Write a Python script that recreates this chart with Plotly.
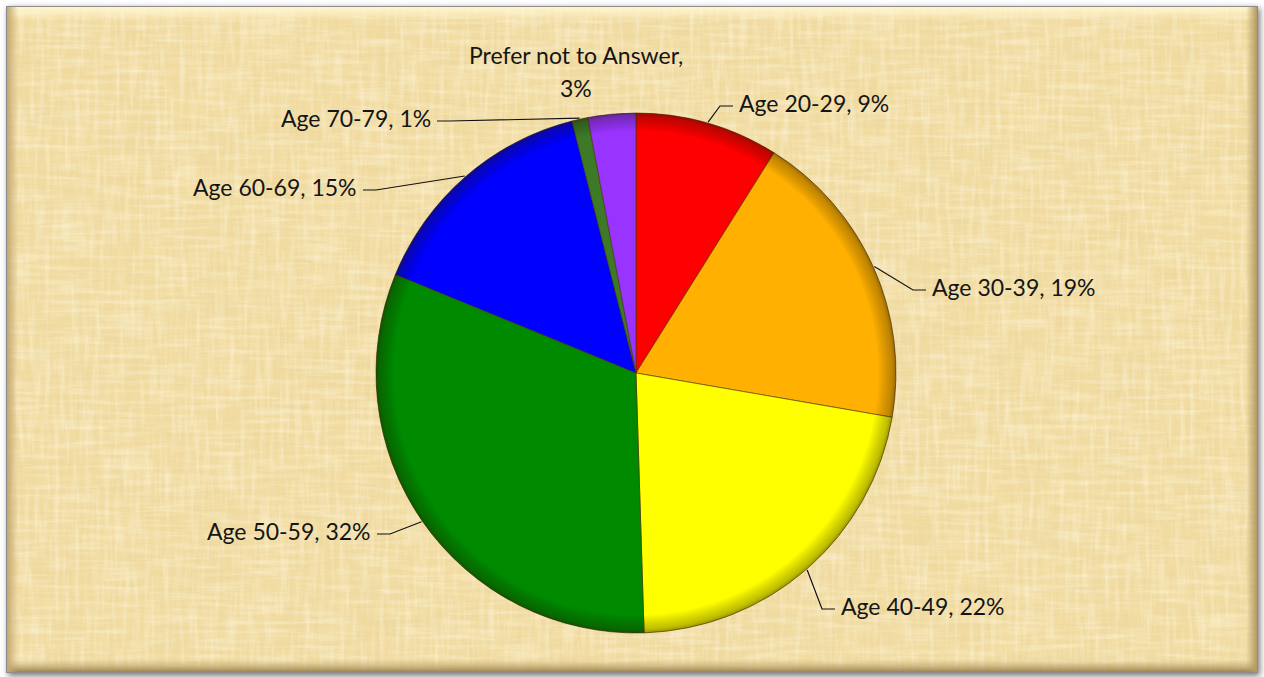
import base64
import math

import plotly.graph_objects as go

# ---- data -------------------------------------------------------------
categories = [
    "Age 20-29",
    "Age 30-39",
    "Age 40-49",
    "Age 50-59",
    "Age 60-69",
    "Age 70-79",
    "Prefer not to Answer",
]
percent_values = [9, 19, 22, 32, 15, 1, 3]
slice_colors = ["#FF0000", "#FFB000", "#FFFF00", "#008A00", "#0000FF", "#3C7A28", "#9933FF"]

# ---- layout -----------------------------------------------------------
FIG_W, FIG_H = 1264, 677
PIE_LEFT, PIE_TOP, PIE_SIZE = 376, 113, 520
CX, CY, R = PIE_LEFT + PIE_SIZE / 2, PIE_TOP + PIE_SIZE / 2, PIE_SIZE / 2
FONT = dict(family="Lato, Calibri, Arial", size=23, color="#151515")

# label text anchors in pixels: (x, y, side); side says which way the text runs
label_anchor = [
    (737, 103, "left"),
    (930, 287, "left"),
    (839, 606, "left"),
    (373, 531, "right"),
    (359, 187, "right"),
    (433, 118, "right"),
    (576, 72, "center"),
]


def to_paper(px, py):
    return (px - PIE_LEFT) / PIE_SIZE, 1 - (py - PIE_TOP) / PIE_SIZE


def streaks(fid, freq, seed, rgb, gain, bias):
    r, g, b = rgb
    return (f"<filter id='{fid}' x='0' y='0' width='100%' height='100%'>"
            f"<feTurbulence type='fractalNoise' baseFrequency='{freq}' numOctaves='3' seed='{seed}'/>"
            f"<feColorMatrix type='matrix' values='0 0 0 0 {r}  0 0 0 0 {g}  0 0 0 0 {b}  {gain} 0 0 0 {bias}'/>"
            f"</filter>")


# parchment background with a bevelled frame, drawn as an svg image
filters = "".join([
    streaks("hf", "0.012 0.30", 4, (0.80, 0.64, 0.30), 2.4, -1.05),
    streaks("vf", "0.30 0.012", 9, (0.82, 0.66, 0.32), 2.4, -1.05),
    streaks("hm", "0.004 0.06", 13, (0.84, 0.70, 0.36), 2.0, -0.95),
    streaks("vm", "0.06 0.004", 17, (0.84, 0.70, 0.36), 2.0, -0.95),
    streaks("lh", "0.02 0.20", 23, (1.0, 0.96, 0.80), 2.4, -1.05),
    streaks("lv", "0.20 0.02", 29, (1.0, 0.96, 0.80), 2.4, -1.05),
])
frame = "x='6' y='6' width='1252' height='667'"
svg = f"""<svg xmlns='http://www.w3.org/2000/svg' width='{FIG_W}' height='{FIG_H}' viewBox='0 0 {FIG_W} {FIG_H}'>
<defs>
<filter id='sh' x='-5%' y='-5%' width='110%' height='110%'><feGaussianBlur stdDeviation='3'/></filter>
{filters}
<linearGradient id='top' x1='0' y1='0' x2='0' y2='1'><stop offset='0' stop-color='#FFF6CF'/><stop offset='1' stop-color='#FFF6CF' stop-opacity='0'/></linearGradient>
<linearGradient id='bot' x1='0' y1='1' x2='0' y2='0'><stop offset='0' stop-color='#9C8450'/><stop offset='1' stop-color='#C9AE74' stop-opacity='0'/></linearGradient>
<linearGradient id='lft' x1='0' y1='0' x2='1' y2='0'><stop offset='0' stop-color='#C3A86F'/><stop offset='1' stop-color='#C3A86F' stop-opacity='0'/></linearGradient>
<linearGradient id='rgt' x1='1' y1='0' x2='0' y2='0'><stop offset='0' stop-color='#B39A62'/><stop offset='1' stop-color='#B39A62' stop-opacity='0'/></linearGradient>
</defs>
<rect x='0' y='0' width='{FIG_W}' height='{FIG_H}' fill='#FFFFFF'/>
<rect x='8' y='8' width='1252' height='668' fill='#7A7A7A' filter='url(#sh)'/>
<rect {frame} fill='#F2DCA2'/>
<rect {frame} filter='url(#hm)' opacity='0.4'/>
<rect {frame} filter='url(#vm)' opacity='0.4'/>
<rect {frame} filter='url(#hf)' opacity='0.35'/>
<rect {frame} filter='url(#vf)' opacity='0.35'/>
<rect {frame} filter='url(#lh)' opacity='0.38'/>
<rect {frame} filter='url(#lv)' opacity='0.38'/>
<rect x='7' y='7' width='1250' height='14' fill='url(#top)'/>
<rect x='7' y='659' width='1250' height='13' fill='url(#bot)'/>
<rect x='7' y='7' width='11' height='665' fill='url(#lft)'/>
<rect x='1246' y='7' width='11' height='665' fill='url(#rgt)'/>
<rect x='6.5' y='6.5' width='1251' height='666' fill='none' stroke='#8C8C8C' stroke-width='1'/>
</svg>"""
bg_src = "data:image/svg+xml;base64," + base64.b64encode(svg.encode()).decode()

# soft darkening along the rim of the pie for a bevelled look
rim_svg = f"""<svg xmlns='http://www.w3.org/2000/svg' width='{PIE_SIZE}' height='{PIE_SIZE}' viewBox='0 0 {PIE_SIZE} {PIE_SIZE}'>
<defs><radialGradient id='rg' cx='0.5' cy='0.5' r='0.5'>
<stop offset='0.93' stop-color='#000' stop-opacity='0'/>
<stop offset='0.985' stop-color='#1E1400' stop-opacity='0.28'/>
<stop offset='1' stop-color='#1E1400' stop-opacity='0.45'/>
</radialGradient></defs>
<circle cx='{PIE_SIZE / 2}' cy='{PIE_SIZE / 2}' r='{PIE_SIZE / 2}' fill='url(#rg)'/>
</svg>"""
rim_src = "data:image/svg+xml;base64," + base64.b64encode(rim_svg.encode()).decode()

fig = go.Figure(
    go.Pie(
        labels=categories,
        values=percent_values,
        sort=False,
        direction="clockwise",
        rotation=0,
        marker=dict(colors=slice_colors, line=dict(color="rgba(70,50,10,0.6)", width=1)),
        textinfo="none",
        hoverinfo="label+value",
        showlegend=False,
        domain=dict(x=[0, 1], y=[0, 1]),
    )
)

# slice mid-angles from the values, measured clockwise from 12 o'clock
total = sum(percent_values)
annotations, shapes = [], []
start = 0.0
for name, val, (tx, ty, side) in zip(categories, percent_values, label_anchor):
    mid = (start + val / 2) / total * 2 * math.pi
    start += val
    rim_x = CX + (R + 1) * math.sin(mid)
    rim_y = CY - (R + 1) * math.cos(mid)

    if side == "center":
        for line, dy in ((f"{name},", -17), (f"{val}%", 16)):
            ax_, ay_ = to_paper(tx, ty + dy)
            annotations.append(dict(x=ax_, y=ay_, xref="paper", yref="paper", text=line,
                                    showarrow=False, xanchor="center", yanchor="middle", font=FONT))
        continue

    px, py = to_paper(tx, ty)
    annotations.append(dict(x=px, y=py, xref="paper", yref="paper", text=f"{name}, {val}%",
                            showarrow=False, xanchor=side, yanchor="middle", font=FONT))
    sgn = -1 if side == "left" else 1
    pts = [(rim_x, rim_y), (tx + sgn * 17, ty + 3), (tx + sgn * 4, ty + 3)]
    pp = [to_paper(x, y) for x, y in pts]
    path = "M {} {} L {} {} L {} {}".format(*[c for p in pp for c in p])
    shapes.append(dict(type="path", path=path, xref="paper", yref="paper",
                       line=dict(color="#111111", width=1.2), layer="above"))

fig.update_layout(
    width=FIG_W,
    height=FIG_H,
    margin=dict(l=PIE_LEFT, r=FIG_W - PIE_LEFT - PIE_SIZE, t=PIE_TOP,
                b=FIG_H - PIE_TOP - PIE_SIZE, autoexpand=False),
    paper_bgcolor="#FFFFFF",
    plot_bgcolor="rgba(0,0,0,0)",
    annotations=annotations,
    shapes=shapes,
    images=[
        dict(source=bg_src, xref="paper", yref="paper",
             x=-PIE_LEFT / PIE_SIZE, y=1 + PIE_TOP / PIE_SIZE,
             sizex=FIG_W / PIE_SIZE, sizey=FIG_H / PIE_SIZE,
             xanchor="left", yanchor="top", sizing="stretch", layer="below"),
        dict(source=rim_src, xref="paper", yref="paper", x=0, y=1, sizex=1, sizey=1,
             xanchor="left", yanchor="top", sizing="stretch", layer="above"),
    ],
)

fig.write_html("out.html", config={"displayModeBar": False})
